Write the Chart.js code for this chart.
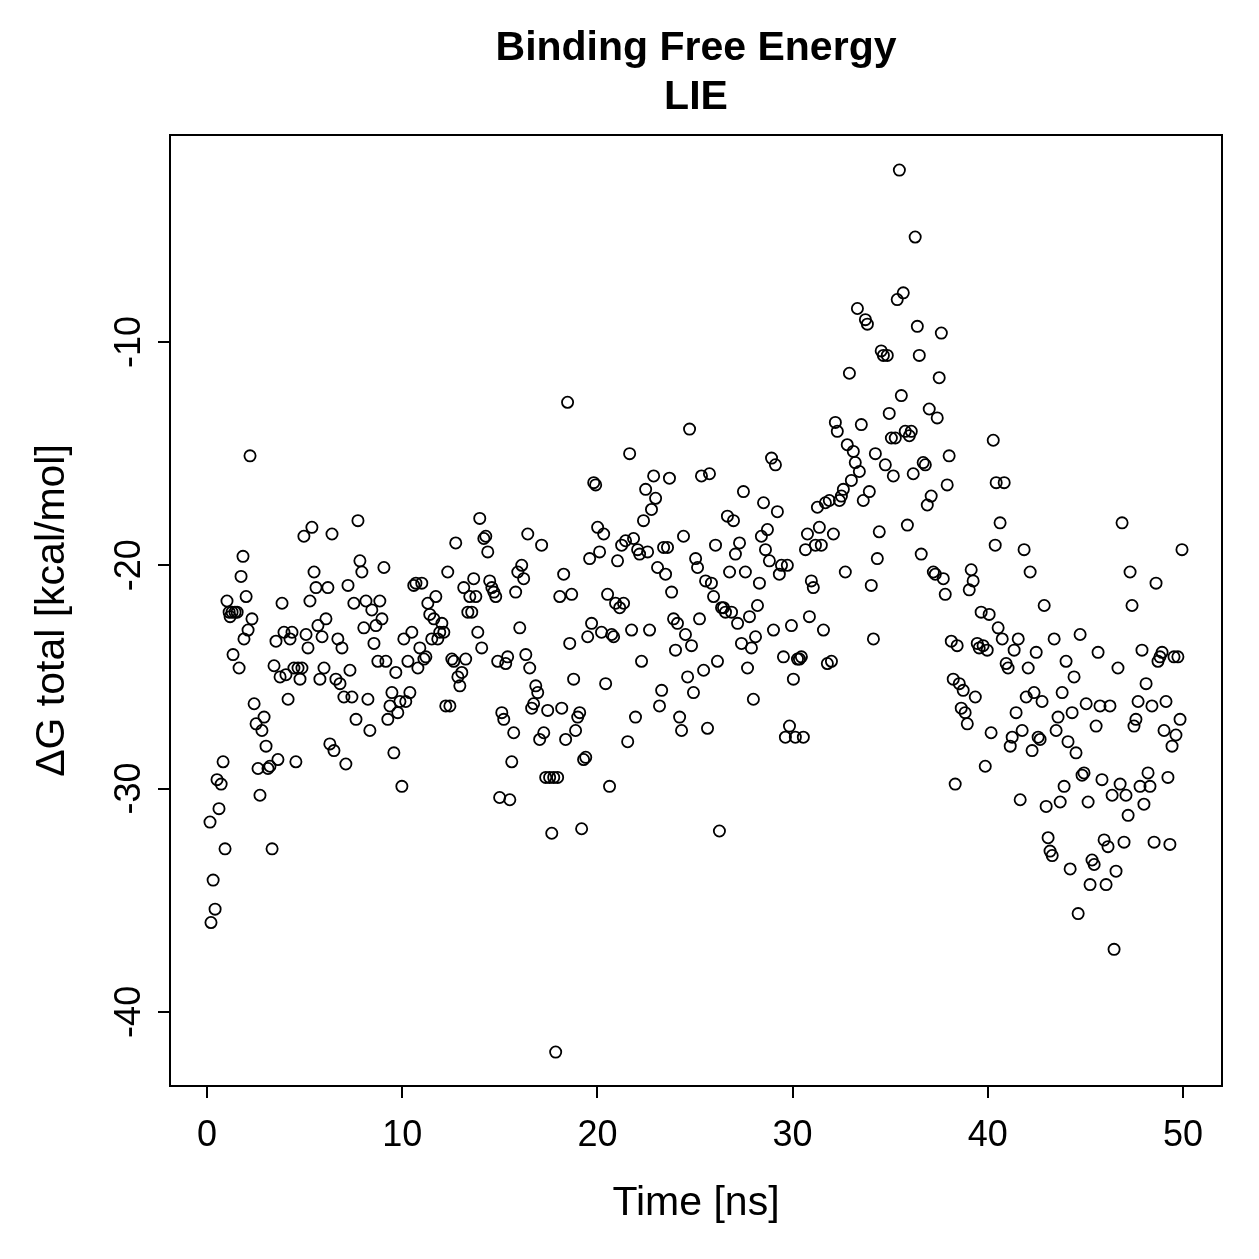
<!DOCTYPE html>
<html><head><meta charset="utf-8">
<script src="https://cdn.jsdelivr.net/npm/chart.js@4/dist/chart.umd.min.js"></script>
<style>html,body{margin:0;padding:0;background:#fff}#wrap{width:1259px;height:1259px}</style>
</head><body><div id="wrap"><canvas id="c" width="1259" height="1259"></canvas></div>
<script>
const titleLines = ['Binding Free Energy', 'LIE'];
const xTitle = 'Time [ns]';
const yTitle = 'ΔG total [kcal/mol]';
const xTicks = [0, 10, 20, 30, 40, 50];
const yTicks = [-40, -30, -20, -10];
const xRange = [-1.9, 52.0];
const yRange = [-43.32, -0.73];

const timeNs = [
0.15,0.20,0.31,0.41,0.51,0.61,0.72,0.82,0.92,1.02,1.13,1.18,1.28,1.33,1.43,1.54,1.64,1.74,1.84,1.89,
2.00,2.10,2.20,2.30,2.41,2.51,2.61,2.71,2.81,2.92,3.02,3.12,3.22,3.33,3.43,3.53,3.63,3.74,3.84,3.94,
4.04,4.15,4.25,4.35,4.45,4.55,4.66,4.76,4.86,4.96,5.07,5.17,5.27,5.37,5.48,5.58,5.68,5.78,5.89,5.99,
6.09,6.19,6.29,6.40,6.50,6.60,6.70,6.81,6.91,7.01,7.11,7.22,7.32,7.42,7.52,7.63,7.73,7.83,7.93,8.03,
8.14,8.24,8.34,8.44,8.55,8.65,8.75,8.85,8.96,9.06,9.16,9.26,9.37,9.47,9.57,9.67,9.77,9.88,9.98,10.08,
10.18,10.29,10.39,10.49,10.59,10.70,10.80,10.90,11.00,11.11,11.21,11.31,11.41,11.51,11.62,11.72,11.82,11.92,12.03,12.13,
12.23,12.33,12.44,12.54,12.64,12.74,12.85,12.95,13.05,13.15,13.25,13.36,13.46,13.56,13.66,13.77,13.87,13.97,14.07,14.18,
14.28,14.38,14.48,14.59,14.69,14.79,14.89,14.99,15.10,15.20,15.30,15.40,15.51,15.61,15.71,15.81,15.92,16.02,16.12,16.22,
16.33,16.43,16.53,16.63,16.73,16.84,16.94,17.04,17.14,17.25,17.35,17.45,17.55,17.66,17.76,17.86,17.96,18.07,18.17,18.27,
18.37,18.47,18.58,18.68,18.78,18.88,18.99,19.09,19.19,19.29,19.40,19.50,19.60,19.70,19.81,19.91,20.01,20.11,20.21,20.32,
20.42,20.52,20.62,20.73,20.83,20.93,21.03,21.14,21.24,21.34,21.44,21.55,21.65,21.75,21.85,21.95,22.06,22.16,22.26,22.36,
22.47,22.57,22.67,22.77,22.88,22.98,23.08,23.18,23.29,23.39,23.49,23.59,23.69,23.80,23.90,24.00,24.10,24.21,24.31,24.41,
24.51,24.62,24.72,24.82,24.92,25.03,25.13,25.23,25.33,25.44,25.54,25.64,25.74,25.84,25.95,26.05,26.15,26.25,26.36,26.46,
26.56,26.66,26.77,26.87,26.97,27.07,27.18,27.28,27.38,27.48,27.58,27.69,27.79,27.89,27.99,28.10,28.20,28.30,28.40,28.51,
28.61,28.71,28.81,28.92,29.02,29.12,29.22,29.32,29.43,29.53,29.63,29.73,29.84,29.94,30.04,30.14,30.25,30.35,30.45,30.55,
30.66,30.76,30.86,30.96,31.06,31.17,31.27,31.37,31.47,31.58,31.68,31.78,31.88,31.99,32.09,32.19,32.29,32.40,32.50,32.60,
32.70,32.80,32.91,33.01,33.11,33.21,33.32,33.42,33.52,33.62,33.73,33.83,33.93,34.03,34.14,34.24,34.34,34.44,34.54,34.65,
34.75,34.85,34.95,35.06,35.16,35.26,35.36,35.47,35.57,35.67,35.77,35.88,35.98,36.08,36.18,36.28,36.39,36.49,36.59,36.69,
36.80,36.90,37.00,37.10,37.21,37.31,37.41,37.51,37.62,37.72,37.82,37.92,38.02,38.13,38.23,38.33,38.43,38.54,38.64,38.74,
38.84,38.95,39.05,39.15,39.25,39.36,39.46,39.56,39.66,39.76,39.87,39.97,40.07,40.17,40.28,40.38,40.43,40.53,40.63,40.74,
40.84,40.94,41.04,41.15,41.25,41.35,41.45,41.56,41.66,41.76,41.86,41.97,42.07,42.17,42.27,42.37,42.48,42.58,42.68,42.78,
42.89,42.99,43.09,43.19,43.30,43.40,43.50,43.60,43.71,43.81,43.91,44.01,44.11,44.22,44.32,44.42,44.52,44.63,44.73,44.83,
44.93,45.04,45.14,45.24,45.34,45.45,45.55,45.65,45.75,45.85,45.96,46.06,46.16,46.26,46.37,46.47,46.57,46.67,46.78,46.88,
46.98,47.08,47.19,47.29,47.39,47.49,47.59,47.70,47.80,47.90,48.00,48.11,48.21,48.31,48.41,48.52,48.62,48.72,48.82,48.93,
49.03,49.13,49.23,49.33,49.44,49.54,49.64,49.74,49.85,49.95
];

const dGTotal = [
-31.5,-36.0,-34.1,-35.4,-29.6,-30.9,-29.8,-28.8,-32.7,-21.6,-22.1,-22.3,-22.1,-24.0,-22.1,-22.1,-24.6,-20.5,-19.6,-23.3,
-21.4,-22.9,-15.1,-22.4,-26.2,-27.1,-29.1,-30.3,-27.4,-26.8,-28.1,-29.1,-29.0,-32.7,-24.5,-23.4,-28.7,-25.0,-21.7,-23.0,
-24.9,-26.0,-23.3,-23.0,-24.6,-28.8,-24.6,-25.1,-24.6,-18.7,-23.1,-23.7,-21.6,-18.3,-20.3,-21.0,-22.7,-25.1,-23.2,-24.6,
-22.4,-21.0,-28.0,-18.6,-28.3,-25.1,-23.3,-25.3,-23.7,-25.9,-28.9,-20.9,-24.7,-25.9,-21.7,-26.9,-18.0,-19.8,-20.3,-22.8,
-21.6,-26.0,-27.4,-22.0,-23.5,-22.7,-24.3,-21.6,-22.4,-20.1,-24.3,-26.9,-26.3,-25.7,-28.4,-24.8,-26.6,-26.1,-29.9,-23.3,
-26.1,-24.3,-25.7,-23.0,-20.9,-20.8,-24.6,-23.7,-20.8,-24.2,-24.1,-21.7,-22.2,-23.3,-22.4,-21.4,-23.3,-23.0,-22.6,-23.0,
-26.3,-20.3,-26.3,-24.2,-24.3,-19.0,-25.0,-25.4,-24.8,-21.0,-24.2,-22.1,-21.4,-22.1,-20.6,-21.4,-23.0,-17.9,-23.7,-18.8,
-18.7,-19.4,-20.7,-21.0,-21.2,-21.4,-24.3,-30.4,-26.6,-26.9,-24.4,-24.1,-30.5,-28.8,-27.5,-21.2,-20.3,-22.8,-20.0,-20.6,
-24.0,-18.6,-24.6,-26.4,-26.2,-25.4,-25.7,-27.8,-19.1,-27.5,-29.5,-26.5,-29.5,-32.0,-29.5,-41.8,-29.5,-21.4,-26.4,-20.4,
-27.8,-12.7,-23.5,-21.3,-25.1,-27.4,-26.8,-26.6,-31.8,-28.7,-28.6,-23.2,-19.7,-22.6,-16.3,-16.4,-18.3,-19.4,-23.0,-18.6,
-25.3,-21.3,-29.9,-23.1,-23.2,-21.7,-19.8,-21.9,-19.1,-21.7,-18.9,-27.9,-15.0,-22.9,-18.8,-26.8,-19.3,-19.5,-24.3,-18.0,
-16.6,-19.4,-22.9,-17.5,-16.0,-17.0,-20.1,-26.3,-25.6,-19.2,-20.4,-19.2,-16.1,-21.2,-22.4,-23.8,-22.6,-26.8,-27.4,-18.7,
-23.1,-25.0,-13.9,-23.6,-25.7,-19.7,-20.1,-22.4,-16.0,-24.7,-20.7,-27.3,-15.9,-20.8,-21.4,-19.1,-24.3,-31.9,-21.9,-21.9,
-22.1,-17.8,-20.3,-22.1,-18.0,-19.5,-22.6,-19.0,-23.5,-16.7,-20.3,-24.6,-22.3,-23.7,-26.0,-23.2,-21.8,-20.8,-18.7,-17.2,
-19.3,-18.4,-19.8,-15.2,-22.9,-15.5,-17.6,-20.4,-20.0,-24.1,-27.7,-20.0,-27.2,-22.7,-25.1,-27.7,-24.2,-24.2,-24.1,-27.7,
-19.3,-18.6,-22.3,-20.7,-21.0,-19.1,-17.4,-18.3,-19.1,-22.9,-17.2,-24.4,-17.1,-24.3,-18.6,-13.6,-14.0,-17.1,-16.9,-16.6,
-20.3,-14.6,-11.4,-16.2,-14.9,-15.4,-8.5,-15.8,-13.7,-17.1,-9.0,-9.2,-16.7,-20.9,-23.3,-15.0,-19.7,-18.5,-10.4,-10.6,
-15.5,-10.6,-13.2,-14.3,-16.0,-14.3,-8.1,-2.3,-12.4,-7.8,-14.0,-18.2,-14.2,-14.0,-15.9,-5.3,-9.3,-10.6,-19.5,-15.4,
-15.5,-17.3,-13.0,-16.9,-20.3,-20.4,-13.4,-11.6,-9.6,-20.6,-21.3,-16.4,-15.1,-23.4,-25.1,-29.8,-23.6,-25.3,-26.4,-25.6,
-26.6,-27.1,-21.1,-20.2,-20.7,-25.9,-23.5,-23.7,-22.1,-23.6,-29.0,-23.8,-22.2,-27.5,-14.4,-19.1,-16.3,-22.8,-18.1,-23.3,
-16.3,-24.4,-24.6,-28.1,-27.7,-23.8,-26.6,-23.3,-30.5,-27.4,-19.3,-25.9,-24.6,-20.3,-28.3,-25.7,-23.9,-27.7,-27.8,-26.1,
-21.8,-30.8,-32.2,-32.8,-33.0,-23.3,-27.4,-26.8,-30.6,-25.7,-29.9,-24.3,-27.9,-33.6,-26.6,-25.0,-28.4,-35.6,-23.1,-29.4,
-29.3,-26.2,-30.6,-34.3,-33.2,-33.4,-27.2,-23.9,-26.3,-29.6,-32.3,-34.3,-32.6,-26.3,-30.3,-37.2,-33.7,-24.6,-29.8,-18.1,
-32.4,-30.3,-31.2,-20.3,-21.8,-27.2,-26.9,-26.1,-29.9,-23.8,-30.7,-25.3,-29.3,-29.9,-26.3,-32.4,-20.8,-24.3,-24.1,-23.9,
-27.4,-26.1,-29.5,-32.5,-28.1,-24.1,-27.6,-24.1,-26.9,-19.3
];

const FONT = '"Liberation Sans", Arial, Helvetica, sans-serif';
const points = timeNs.map((t, i) => ({ x: t, y: dGTotal[i] }));

const boxPlugin = {
  id: 'box',
  afterDraw(chart) {
    const { ctx, chartArea: a } = chart;
    ctx.save();
    ctx.strokeStyle = '#000';
    ctx.lineWidth = 2;
    ctx.strokeRect(a.left, a.top, a.right - a.left, a.bottom - a.top);
    ctx.restore();
  }
};
const bgPlugin = {
  id: 'bg',
  beforeDraw(chart) {
    const { ctx } = chart;
    ctx.save();
    ctx.fillStyle = '#fff';
    ctx.fillRect(0, 0, chart.width, chart.height);
    ctx.restore();
  }
};

new Chart(document.getElementById('c'), {
  type: 'scatter',
  data: {
    datasets: [{
      data: points,
      pointStyle: 'circle',
      pointRadius: 5.6,
      pointBorderWidth: 1.8,
      pointBorderColor: '#000',
      pointBackgroundColor: 'rgba(0,0,0,0)',
      borderColor: '#000',
      backgroundColor: 'rgba(0,0,0,0)'
    }]
  },
  options: {
    responsive: false,
    animation: false,
    devicePixelRatio: 1,
    layout: { padding: { left: 0, right: 37, top: 0, bottom: 0 } },
    plugins: {
      legend: { display: false },
      tooltip: { enabled: false },
      title: {
        display: true,
        fullSize: false,
        text: titleLines,
        color: '#000',
        font: { family: FONT, size: 41, weight: 'bold', lineHeight: 1.2 },
        padding: { top: 24, bottom: 12.6 }
      }
    },
    scales: {
      x: {
        type: 'linear',
        min: xRange[0], max: xRange[1],
        afterBuildTicks: s => { s.ticks = xTicks.map(v => ({ value: v })); },
        afterFit: s => { s.height = 173; s.paddingLeft = 0; s.paddingRight = 0; },
        grid: { drawOnChartArea: false, drawTicks: true, tickLength: 12, color: '#000', lineWidth: 2 },
        border: { display: false },
        ticks: { color: '#000', font: { family: FONT, size: 36 }, padding: 16, minRotation: 0, maxRotation: 0, autoSkip: false },
        title: { display: true, text: xTitle, color: '#000', font: { family: FONT, size: 41, lineHeight: 1.2 }, padding: { top: 0, bottom: 31 } }
      },
      y: {
        type: 'linear',
        min: yRange[0], max: yRange[1],
        afterBuildTicks: s => { s.ticks = yTicks.map(v => ({ value: v })); },
        afterFit: s => { s.width = 170; s.paddingTop = 0; s.paddingBottom = 0; },
        grid: { drawOnChartArea: false, drawTicks: true, tickLength: 12, color: '#000', lineWidth: 2 },
        border: { display: false },
        ticks: { color: '#000', font: { family: FONT, size: 36 }, padding: 2, minRotation: 90, maxRotation: 90, crossAlign: 'center', autoSkip: false },
        title: { display: true, text: yTitle, color: '#000', font: { family: FONT, size: 41, lineHeight: 1.2 }, padding: { top: 28, bottom: 0 } }
      }
    }
  },
  plugins: [bgPlugin, boxPlugin]
});
</script>
</body></html>
